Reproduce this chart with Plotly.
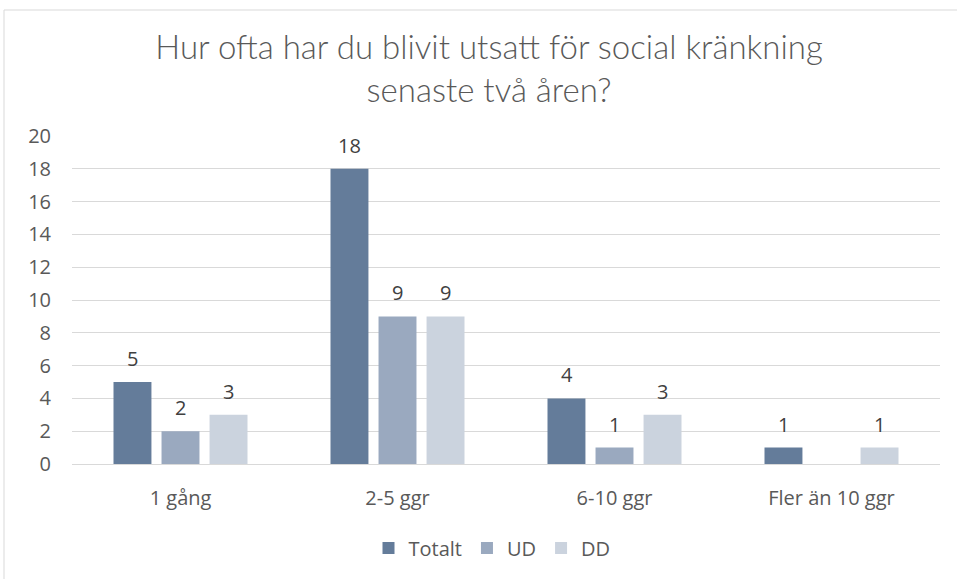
import plotly.graph_objects as go

categories = ["1 gång", "2-5 ggr", "6-10 ggr", "Fler än 10 ggr"]
totalt = [5, 18, 4, 1]
ud = [2, 9, 1, None]
dd = [3, 9, 3, 1]
series_names = ["Totalt", "UD", "DD"]
colors = ["#647c9a", "#9aa9bf", "#cbd3de"]
title_text = "Hur ofta har du blivit utsatt för social kränkning<br>senaste två åren?"

W, H = 957, 579
L, R, T, B = 72, 17, 136, 115
pw = W - L - R
ph = H - T - B

fig = go.Figure()
series = [totalt, ud, dd]
for name, vals, c in zip(series_names, series, colors):
    fig.add_trace(go.Bar(x=categories, y=vals, name=name, marker=dict(color=c, line=dict(width=0))))

# data labels
shifts = [-48, 0, 48]
for vals, xs in zip(series, shifts):
    for cat, v in zip(categories, vals):
        if v is None:
            continue
        fig.add_annotation(x=cat, y=v, xref="x", yref="y", text=str(v), showarrow=False,
                           xshift=xs, yshift=8, yanchor="bottom",
                           font=dict(family="Open Sans", size=20, color="#404040"))

# outer frame
fig.add_shape(type="rect", xref="paper", yref="paper",
              x0=(4 - L) / pw, x1=(W + 5 - L) / pw,
              y0=-(B + 20) / ph, y1=(ph + T - 10) / ph,
              line=dict(color="#d9d9d9", width=1), fillcolor="rgba(0,0,0,0)", layer="below")

fig.update_layout(
    width=W, height=H,
    margin=dict(l=L, r=R, t=T, b=B),
    paper_bgcolor="white", plot_bgcolor="white",
    barmode="group", bargap=0.336, bargroupgap=0.21,
    title=dict(text=title_text, x=489 / W, xanchor="center", xref="container",
               y=1 - 59 / H, yanchor="middle", yref="container",
               font=dict(family="Lato", size=33, color="#595959", weight=300)),
    font=dict(family="Open Sans", color="#595959"),
    legend=dict(orientation="h", x=(492 - L) / pw, xanchor="center", y=-(548 - (H - B)) / ph, yanchor="middle",
                font=dict(family="Open Sans", size=20, color="#595959"), itemwidth=30, traceorder="normal"),
    showlegend=True,
)
fig.update_yaxes(range=[0, 20], dtick=2, showgrid=True, gridcolor="#d9d9d9", gridwidth=1,
                 zeroline=True, zerolinecolor="#d9d9d9", zerolinewidth=1, showline=False,
                 tickfont=dict(family="Open Sans", size=20, color="#595959"), ticklabelstandoff=20)
fig.update_xaxes(showgrid=False, showline=False,
                 tickfont=dict(family="Open Sans", size=20, color="#595959"), ticklabelstandoff=20)

fig.write_html("out.html", config={"displayModeBar": False},
               post_script="document.body.style.margin='0px';")
